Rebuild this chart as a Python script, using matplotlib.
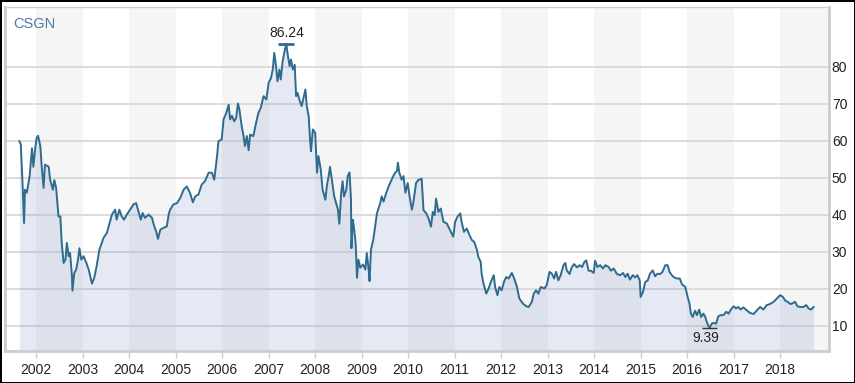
import numpy as np
import matplotlib
matplotlib.use("Agg")
import matplotlib.pyplot as plt

# ---------------------------------------------------------------------------
# data: decimal year, close price
# ---------------------------------------------------------------------------
ticker = "CSGN"

dates = [
    2001.64, 2001.67, 2001.71, 2001.74, 2001.76, 2001.80, 2001.86, 2001.91, 2001.94, 2001.98,
    2002.01, 2002.04, 2002.09, 2002.12, 2002.16, 2002.19, 2002.27, 2002.30, 2002.36, 2002.39,
    2002.43, 2002.48, 2002.52, 2002.55, 2002.59, 2002.63, 2002.66, 2002.70, 2002.73, 2002.77,
    2002.78, 2002.82, 2002.86, 2002.90, 2002.93, 2002.97, 2003.02, 2003.08, 2003.13, 2003.20,
    2003.25, 2003.30, 2003.36, 2003.41, 2003.45, 2003.52, 2003.59, 2003.63, 2003.70, 2003.73,
    2003.79, 2003.84, 2003.89, 2003.95, 2004.02, 2004.09, 2004.15, 2004.20, 2004.25, 2004.29,
    2004.34, 2004.42, 2004.49, 2004.54, 2004.58, 2004.62, 2004.67, 2004.74, 2004.81, 2004.85,
    2004.88, 2004.95, 2005.03, 2005.10, 2005.17, 2005.24, 2005.31, 2005.37, 2005.42, 2005.49,
    2005.56, 2005.63, 2005.71, 2005.78, 2005.83, 2005.89, 2005.92, 2005.99, 2006.03, 2006.09,
    2006.14, 2006.17, 2006.21, 2006.26, 2006.30, 2006.34, 2006.37, 2006.42, 2006.46, 2006.49,
    2006.53, 2006.57, 2006.60, 2006.67, 2006.73, 2006.78, 2006.83, 2006.89, 2006.95, 2007.00,
    2007.05, 2007.09, 2007.12, 2007.15, 2007.19, 2007.23, 2007.26, 2007.30, 2007.35, 2007.38,
    2007.41, 2007.45, 2007.48, 2007.52, 2007.56, 2007.59, 2007.62, 2007.66, 2007.71, 2007.75,
    2007.79, 2007.82, 2007.86, 2007.89, 2007.91, 2007.95, 2008.00, 2008.04, 2008.07, 2008.12,
    2008.16, 2008.22, 2008.25, 2008.29, 2008.32, 2008.36, 2008.41, 2008.45, 2008.49, 2008.52,
    2008.56, 2008.59, 2008.62, 2008.67, 2008.70, 2008.74, 2008.77, 2008.78, 2008.81, 2008.84,
    2008.87, 2008.90, 2008.93, 2008.97, 2009.03, 2009.08, 2009.11, 2009.15, 2009.17, 2009.20,
    2009.25, 2009.29, 2009.33, 2009.40, 2009.43, 2009.47, 2009.53, 2009.58, 2009.63, 2009.68,
    2009.72, 2009.76, 2009.78, 2009.81, 2009.86, 2009.90, 2009.94, 2009.99, 2010.03, 2010.08,
    2010.11, 2010.17, 2010.22, 2010.24, 2010.29, 2010.33, 2010.39, 2010.44, 2010.49, 2010.53,
    2010.57, 2010.60, 2010.65, 2010.70, 2010.76, 2010.83, 2010.90, 2010.97, 2011.01, 2011.06,
    2011.12, 2011.15, 2011.20, 2011.26, 2011.32, 2011.37, 2011.42, 2011.48, 2011.51, 2011.56,
    2011.58, 2011.62, 2011.68, 2011.73, 2011.78, 2011.84, 2011.87, 2011.92, 2011.96, 2012.01,
    2012.06, 2012.11, 2012.16, 2012.23, 2012.28, 2012.34, 2012.39, 2012.47, 2012.54, 2012.59,
    2012.66, 2012.70, 2012.75, 2012.80, 2012.85, 2012.93, 2012.98, 2013.04, 2013.09, 2013.14,
    2013.18, 2013.23, 2013.28, 2013.34, 2013.38, 2013.41, 2013.47, 2013.52, 2013.57, 2013.63,
    2013.69, 2013.74, 2013.79, 2013.83, 2013.88, 2013.93, 2013.99, 2014.02, 2014.07, 2014.13,
    2014.19, 2014.24, 2014.31, 2014.36, 2014.42, 2014.49, 2014.56, 2014.62, 2014.67, 2014.72,
    2014.77, 2014.83, 2014.88, 2014.93, 2014.98, 2015.00, 2015.05, 2015.10, 2015.15, 2015.20,
    2015.26, 2015.31, 2015.36, 2015.42, 2015.47, 2015.53, 2015.58, 2015.62, 2015.67, 2015.72,
    2015.78, 2015.84, 2015.89, 2015.96, 2016.01, 2016.05, 2016.08, 2016.12, 2016.17, 2016.21,
    2016.26, 2016.30, 2016.35, 2016.39, 2016.42, 2016.48, 2016.53, 2016.57, 2016.62, 2016.67,
    2016.72, 2016.78, 2016.84, 2016.89, 2016.94, 2017.00, 2017.05, 2017.10, 2017.15, 2017.21,
    2017.28, 2017.35, 2017.43, 2017.50, 2017.57, 2017.64, 2017.71, 2017.78, 2017.86, 2017.93,
    2018.00, 2018.06, 2018.11, 2018.16, 2018.22, 2018.27, 2018.32, 2018.37, 2018.43, 2018.50,
    2018.56, 2018.61, 2018.66, 2018.72,
]

prices = [
    59.9, 59.0, 47.7, 37.8, 46.8, 46.0, 50.5, 58.0, 53.0, 58.0,
    60.8, 61.4, 58.6, 53.0, 47.3, 53.6, 53.0, 49.5, 46.8, 49.4,
    47.3, 39.6, 39.6, 32.4, 27.0, 27.9, 32.4, 28.8, 29.7, 23.4,
    19.5, 24.3, 25.2, 27.9, 31.0, 27.9, 28.8, 27.0, 25.2, 21.4,
    23.0, 26.1, 30.6, 32.4, 33.8, 35.1, 38.3, 40.1, 41.4, 38.7,
    41.4, 39.6, 38.7, 40.1, 41.4, 42.8, 43.2, 41.0, 38.7, 40.5,
    39.2, 40.1, 39.2, 36.9, 35.6, 33.5, 36.0, 36.5, 36.9, 40.1,
    41.4, 42.8, 43.2, 44.6, 46.8, 47.7, 45.9, 43.4, 45.0, 45.5,
    48.2, 49.1, 51.4, 51.4, 49.5, 55.9, 59.9, 60.4, 65.8, 67.6,
    69.8, 65.8, 66.8, 65.3, 66.2, 70.1, 68.5, 64.0, 61.3, 58.6,
    61.3, 57.5, 61.7, 61.3, 64.9, 67.6, 68.9, 72.1, 71.2, 75.7,
    77.0, 79.5, 83.8, 81.1, 76.1, 79.3, 76.6, 81.5, 84.7, 86.24,
    83.3, 80.2, 82.0, 79.3, 80.6, 72.1, 73.0, 71.2, 69.4, 71.6,
    73.9, 69.4, 66.7, 60.4, 57.2, 63.1, 62.2, 51.4, 55.9, 52.3,
    46.8, 44.1, 47.7, 50.5, 53.0, 49.5, 45.0, 43.2, 41.4, 37.6,
    46.0, 49.1, 45.0, 46.8, 50.5, 51.5, 44.1, 31.0, 38.7, 36.0,
    32.4, 23.0, 27.9, 25.7, 26.6, 25.2, 29.7, 25.2, 22.1, 30.6,
    33.3, 36.9, 40.5, 43.2, 45.0, 43.6, 46.0, 47.7, 49.1, 50.5,
    51.4, 51.9, 54.1, 51.4, 49.5, 50.5, 46.0, 48.6, 45.0, 41.4,
    43.2, 48.6, 49.5, 49.5, 49.8, 41.3, 40.4, 39.0, 36.8, 40.8,
    39.9, 44.4, 40.8, 41.7, 38.1, 37.7, 35.9, 34.1, 38.1, 39.5,
    40.4, 38.1, 35.4, 36.3, 34.5, 33.2, 32.7, 30.5, 28.6, 27.3,
    24.1, 21.4, 18.7, 20.1, 21.9, 23.7, 20.5, 18.3, 20.5, 19.6,
    21.9, 23.2, 22.8, 24.3, 22.8, 20.5, 17.4, 16.0, 15.3, 15.1,
    16.5, 18.7, 19.6, 18.7, 20.5, 20.1, 21.0, 24.6, 24.1, 22.8,
    24.6, 22.3, 23.7, 26.4, 27.0, 25.0, 24.0, 25.9, 26.7, 25.8,
    26.4, 25.9, 27.3, 27.7, 24.9, 24.9, 24.3, 27.6, 25.9, 26.4,
    25.5, 26.4, 25.9, 24.9, 25.5, 24.0, 23.7, 24.3, 23.2, 24.1,
    22.5, 23.7, 23.1, 23.7, 22.3, 17.8, 19.2, 21.9, 22.2, 24.1,
    25.0, 23.4, 24.1, 24.0, 24.6, 26.4, 26.4, 24.6, 23.7, 23.1,
    22.8, 22.8, 21.2, 20.5, 17.8, 16.0, 13.3, 12.4, 14.1, 12.9,
    14.4, 12.4, 13.3, 12.4, 11.1, 9.39, 10.6, 10.8, 10.6, 12.6,
    12.9, 12.9, 13.8, 13.3, 14.4, 15.3, 14.7, 15.1, 14.4, 15.0,
    14.2, 13.5, 13.2, 14.2, 15.1, 14.4, 15.6, 15.9, 16.5, 17.4,
    18.3, 17.8, 16.8, 16.5, 15.9, 16.1, 16.5, 15.3, 15.1, 15.1,
    15.6, 14.7, 14.4, 15.1,
]

years = list(range(2002, 2019))
y_ticks = [10, 20, 30, 40, 50, 60, 70, 80]

# ---------------------------------------------------------------------------
# styling
# ---------------------------------------------------------------------------
LINE = "#2f6a8f"
FILL = "#7d91c3"
BAND = "#f5f5f5"
GRID = "#d6d6d6"
FRAME = "#cccccc"
X_MIN, X_MAX = 2001.33, 2019.05
Y_MIN, Y_MAX = 3.2, 96.2

plt.rcParams['font.family'] = ['Liberation Sans', 'DejaVu Sans']

x = np.array(dates)
y = np.array(prices)

fig = plt.figure(figsize=(8.55, 3.83), dpi=100)
fig.patch.set_facecolor("white")
fig.patch.set_edgecolor("black")
fig.patch.set_linewidth(2)
ax = fig.add_axes([5 / 855, 32 / 383, 824 / 855, 344 / 383])
ax.set_facecolor("white")

# alternating year bands
for yr in years:
    if yr % 2 == 0:
        end = yr + 1 if yr + 1 < years[-1] + 1 else X_MAX
        ax.axvspan(yr, end, color=BAND, lw=0, zorder=0)

for v in y_ticks:
    ax.axhline(v, color=GRID, lw=1.2, zorder=1)

ax.fill_between(x, y, Y_MIN, color=FILL, alpha=0.2, lw=0, zorder=2)
ax.plot(x, y, color=LINE, lw=1.4, zorder=3)

# max / min markers
i_max, i_min = int(np.argmax(y)), int(np.argmin(y))
ax.hlines(y[i_max], x[i_max] - 0.17, x[i_max] + 0.17, color=LINE, lw=2, zorder=4)
ax.annotate(f"{y[i_max]:.2f}", (x[i_max], y[i_max]), xytext=(0, 3),
            textcoords="offset points", ha="center", va="bottom",
            fontsize=10, color="#222222")
ax.hlines(y[i_min], x[i_min] - 0.16, x[i_min] + 0.16, color="#333333", lw=1, zorder=4)
ax.annotate(f"{y[i_min]:.2f}", (x[i_min], y[i_min]), xytext=(-3, -2),
            textcoords="offset points", ha="center", va="top",
            fontsize=10, color="#222222")

ax.text(0.01, 0.97, ticker, transform=ax.transAxes, ha="left", va="top",
        fontsize=10.5, color="#4a7aa8")

ax.set_xlim(X_MIN, X_MAX)
ax.set_ylim(Y_MIN, Y_MAX)

ax.set_xticks(years)
ax.set_xticklabels([str(v) for v in years])
ax.set_yticks(y_ticks)
ax.yaxis.tick_right()
ax.tick_params(axis="y", length=0, pad=2, labelsize=10, labelcolor="#222222")
ax.tick_params(axis="x", length=5, width=1, color=FRAME, pad=4,
               labelsize=10, labelcolor="#222222")

for side in ("left", "bottom", "right"):
    ax.spines[side].set_color(FRAME)
    ax.spines[side].set_linewidth(2)
ax.spines["top"].set_color("#d0d0d0")
ax.spines["top"].set_linewidth(1)

fig.savefig("out.png", dpi=100)
